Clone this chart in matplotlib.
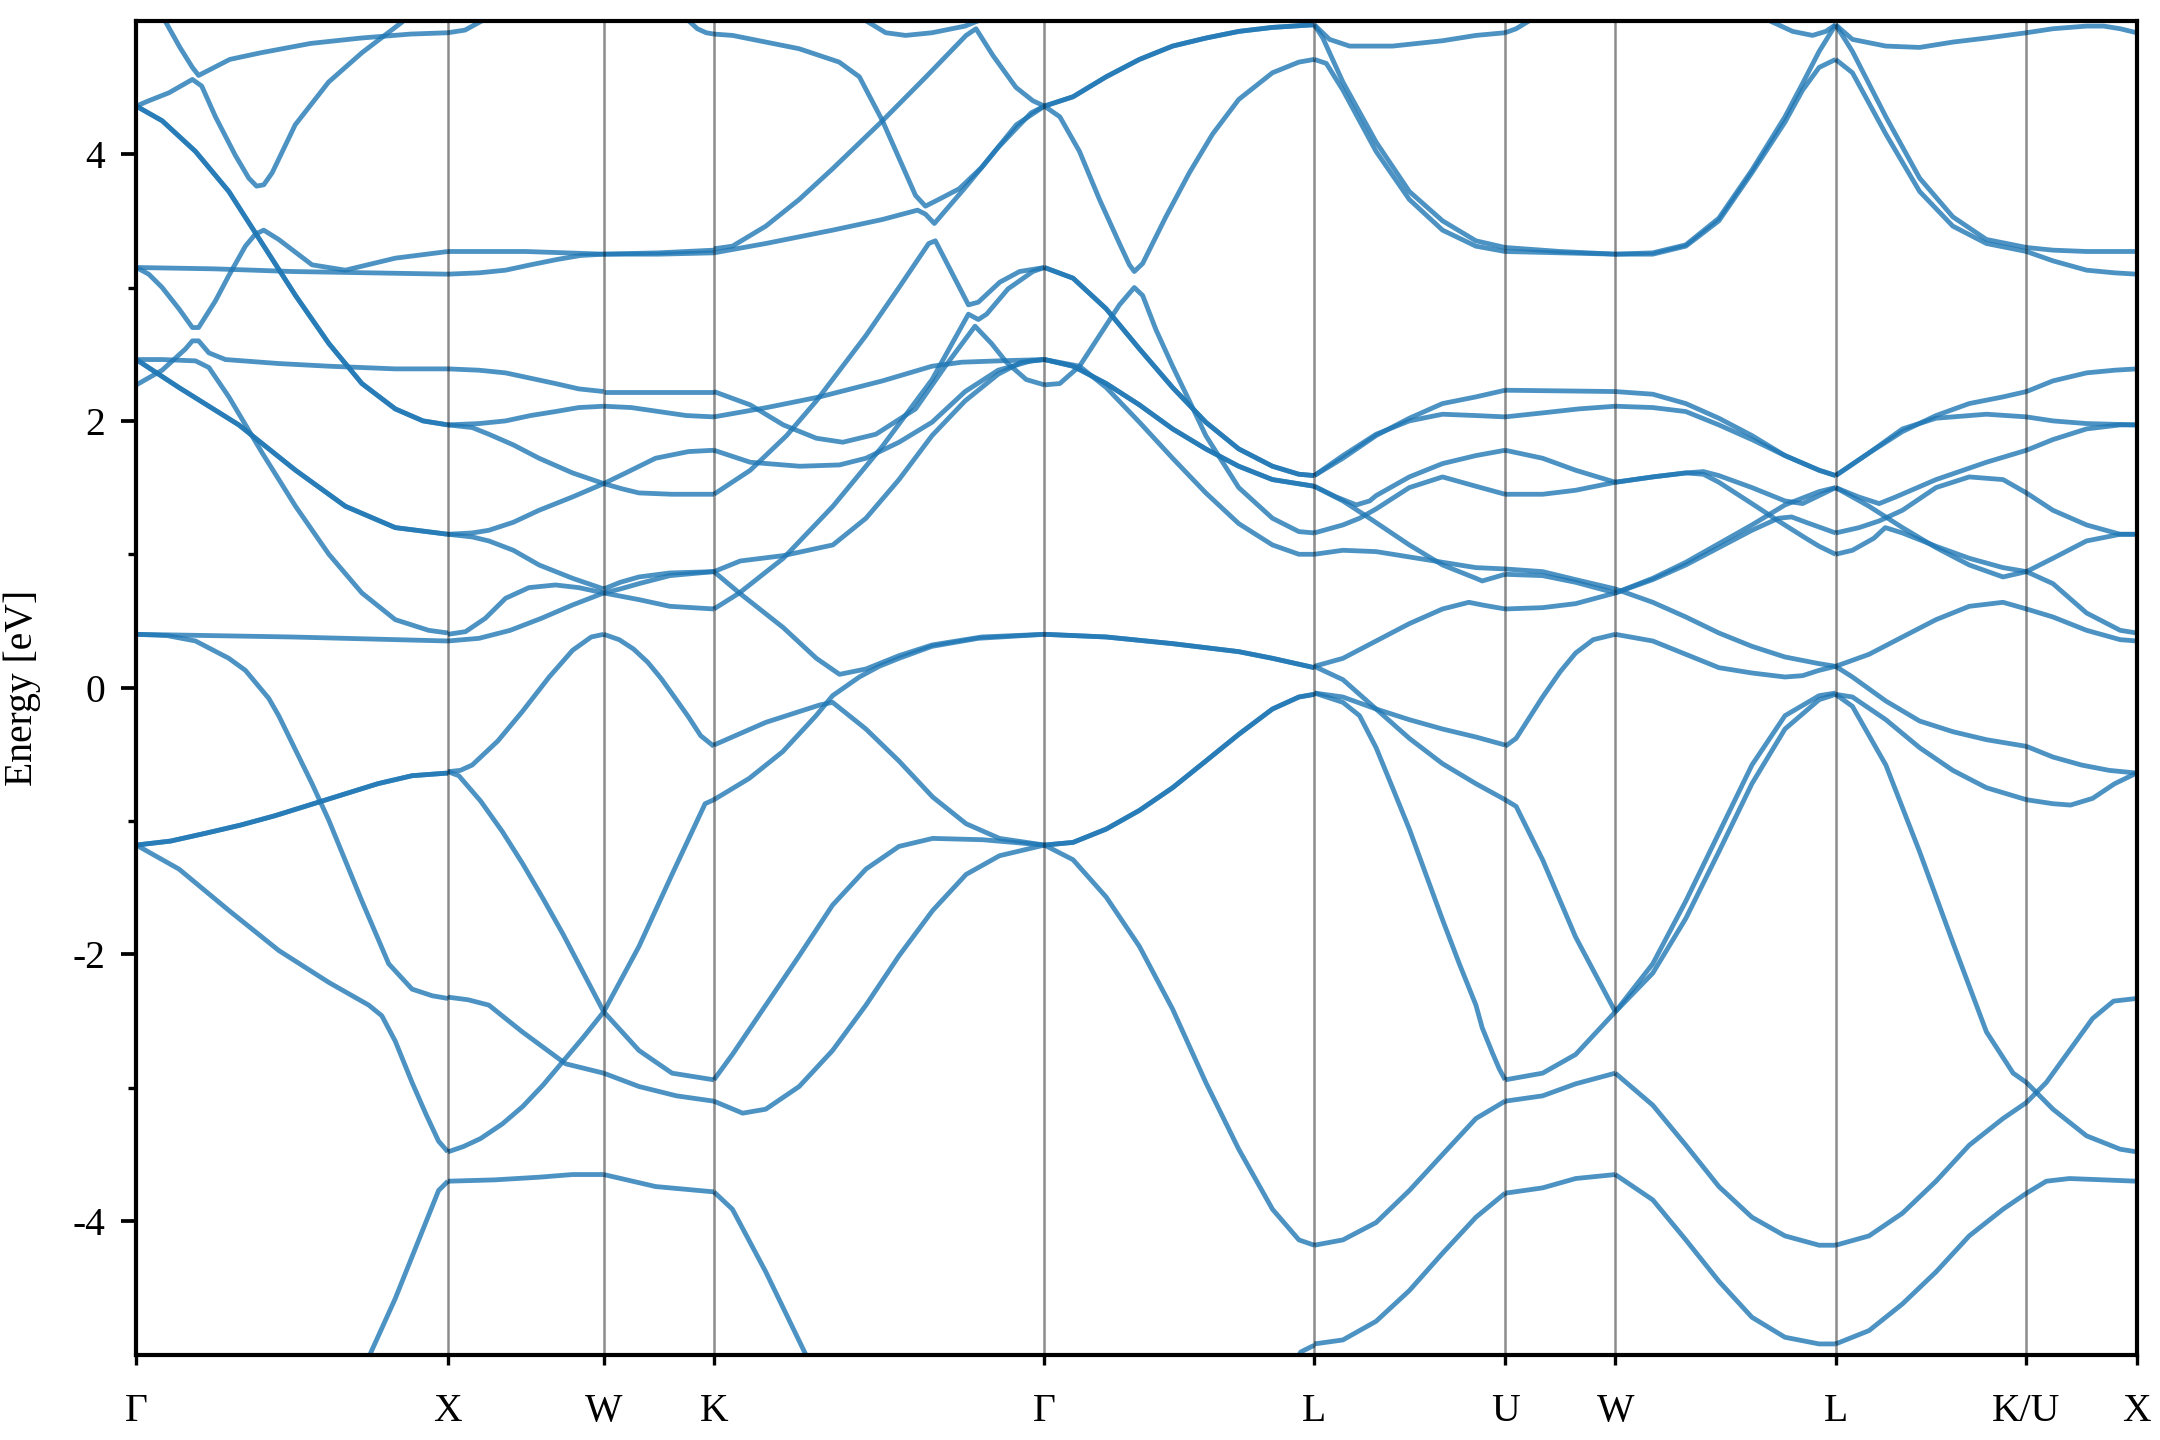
import matplotlib.pyplot as plt

plt.rcParams['font.family'] = ['Liberation Serif', 'DejaVu Serif']
plt.rcParams['font.size'] = 9.5
plt.rcParams['axes.unicode_minus'] = False

# k-path (FCC), segment lengths in 2pi/a
labels = ['Γ', 'X', 'W', 'K', 'Γ', 'L', 'U', 'W', 'L', 'K/U', 'X']
seg_len = [1.0, 0.5, 0.3536, 1.0607, 0.8660, 0.6124, 0.3536, 0.7071, 0.6124, 0.3536]

# band pieces per segment: (fraction along segment, energy in eV[, degeneracy])
gamma_x = [
    ([0.08, 0.14, 0.18, 0.20, 0.30, 0.40, 0.56, 0.72, 0.88, 1.0],
     [5.05, 4.80, 4.65, 4.59, 4.71, 4.76, 4.83, 4.87, 4.90, 4.91]),
    ([0, 0.04, 0.105, 0.18, 0.21, 0.254, 0.318, 0.361, 0.386, 0.409, 0.436, 0.51, 0.617, 0.724, 0.853, 0.87],
     [4.36, 4.40, 4.46, 4.56, 4.51, 4.28, 3.99, 3.82, 3.76, 3.77, 3.86, 4.22, 4.54, 4.76, 4.99, 5.05]),
    ([0, 0.083, 0.19, 0.297, 0.404, 0.511, 0.618, 0.724, 0.831, 0.92, 1.0],
     [4.36, 4.25, 4.02, 3.72, 3.33, 2.94, 2.58, 2.28, 2.09, 2.0, 1.97], 2),
    ([0, 0.25, 0.5, 0.75, 1.0], [3.15, 3.14, 3.12, 3.11, 3.10]),
    ([0, 0.04, 0.083, 0.137, 0.18, 0.2, 0.254, 0.297, 0.35, 0.382, 0.409, 0.457, 0.564, 0.671, 0.831, 1.0],
     [3.15, 3.10, 3.0, 2.84, 2.70, 2.70, 2.90, 3.09, 3.31, 3.40, 3.43, 3.36, 3.17, 3.13, 3.22, 3.27]),
    ([0, 0.083, 0.19, 0.233, 0.297, 0.404, 0.511, 0.618, 0.724, 0.831, 0.938, 1.0],
     [2.46, 2.46, 2.45, 2.40, 2.18, 1.76, 1.36, 1.0, 0.71, 0.51, 0.43, 0.41]),
    ([0, 0.137, 0.329, 0.511, 0.671, 0.831, 1.0],
     [2.46, 2.25, 1.97, 1.63, 1.36, 1.20, 1.15], 2),
    ([0, 0.083, 0.158, 0.18, 0.2, 0.233, 0.286, 0.457, 0.618, 0.831, 1.0],
     [2.27, 2.38, 2.54, 2.60, 2.60, 2.51, 2.46, 2.43, 2.41, 2.39, 2.39]),
    ([0, 0.5, 1.0], [0.40, 0.38, 0.35]),
    ([0, 0.1, 0.19, 0.297, 0.35, 0.425, 0.457, 0.564, 0.617, 0.724, 0.81, 0.885, 0.95, 1.0],
     [0.40, 0.39, 0.35, 0.22, 0.13, -0.08, -0.21, -0.72, -0.99, -1.6, -2.07, -2.26, -2.31, -2.33]),
    ([0, 0.11, 0.225, 0.335, 0.445, 0.555, 0.665, 0.775, 0.885, 1.0],
     [-1.18, -1.15, -1.09, -1.03, -0.96, -0.88, -0.80, -0.72, -0.66, -0.64], 2),
    ([0, 0.137, 0.297, 0.457, 0.618, 0.746, 0.788, 0.831, 0.885, 0.93, 0.97, 1.0],
     [-1.18, -1.36, -1.67, -1.97, -2.21, -2.38, -2.46, -2.65, -2.96, -3.20, -3.40, -3.48]),
    ([0.74, 0.831, 0.97, 1.0], [-5.05, -4.58, -3.77, -3.70]),
]

x_w = [
    ([0, 0.11, 0.22, 0.26], [4.91, 4.93, 5.0, 5.05]),
    ([0, 0.5, 1.0], [3.27, 3.27, 3.25]),
    ([0, 0.2, 0.37, 0.53, 0.7, 0.85, 1.0], [3.10, 3.11, 3.13, 3.17, 3.21, 3.24, 3.25]),
    ([0, 0.2, 0.37, 0.53, 0.69, 0.84, 1.0], [2.39, 2.38, 2.36, 2.32, 2.28, 2.24, 2.22]),
    ([0, 0.2, 0.37, 0.53, 0.69, 0.84, 1.0], [1.97, 1.98, 2.0, 2.04, 2.07, 2.10, 2.11]),
    ([0, 0.156, 0.263, 0.42, 0.585, 0.8, 1.0], [1.97, 1.95, 1.90, 1.82, 1.72, 1.61, 1.53]),
    ([0, 0.156, 0.263, 0.42, 0.585, 0.8, 1.0], [1.15, 1.16, 1.18, 1.24, 1.33, 1.43, 1.53]),
    ([0, 0.156, 0.263, 0.42, 0.585, 0.8, 1.0], [1.15, 1.13, 1.10, 1.03, 0.92, 0.82, 0.74]),
    ([0, 0.113, 0.24, 0.37, 0.52, 0.69, 0.84, 1.0], [0.40, 0.42, 0.52, 0.67, 0.75, 0.77, 0.75, 0.71]),
    ([0, 0.2, 0.4, 0.6, 0.8, 1.0], [0.35, 0.37, 0.43, 0.52, 0.62, 0.71]),
    ([0, 0.08, 0.156, 0.32, 0.477, 0.65, 0.8, 0.92, 1.0],
     [-0.63, -0.62, -0.58, -0.40, -0.18, 0.08, 0.28, 0.38, 0.40]),
    ([0, 0.07, 0.21, 0.35, 0.48, 0.61, 0.74, 0.87, 1.0],
     [-0.63, -0.66, -0.85, -1.08, -1.32, -1.58, -1.85, -2.14, -2.43]),
    ([0, 0.13, 0.263, 0.477, 0.756, 1.0], [-2.32, -2.34, -2.38, -2.58, -2.82, -2.89]),
    ([0, 0.1, 0.21, 0.35, 0.48, 0.61, 0.74, 0.87, 1.0],
     [-3.48, -3.44, -3.38, -3.27, -3.14, -2.98, -2.80, -2.62, -2.43]),
    ([0, 0.3, 0.585, 0.8, 1.0], [-3.70, -3.69, -3.67, -3.65, -3.65]),
]

w_k = [
    ([0.72, 0.77, 0.85, 0.93, 1.0], [5.05, 5.0, 4.94, 4.91, 4.90]),
    ([0, 0.5, 1.0], [3.25, 3.26, 3.28]),
    ([0, 0.5, 1.0], [3.25, 3.25, 3.26]),
    ([0, 0.5, 1.0], [2.22, 2.22, 2.22]),
    ([0, 0.25, 0.5, 0.75, 1.0], [2.11, 2.10, 2.07, 2.04, 2.03]),
    ([0, 0.17, 0.32, 0.62, 1.0], [1.53, 1.49, 1.46, 1.45, 1.45]),
    ([0, 0.2, 0.47, 0.77, 1.0], [1.53, 1.61, 1.72, 1.77, 1.78]),
    ([0, 0.15, 0.32, 0.6, 1.0], [0.74, 0.79, 0.83, 0.86, 0.87]),
    ([0, 0.15, 0.32, 0.6, 1.0], [0.71, 0.74, 0.78, 0.84, 0.87]),
    ([0, 0.32, 0.6, 1.0], [0.71, 0.66, 0.61, 0.59]),
    ([0, 0.14, 0.27, 0.4, 0.52, 0.65, 0.77, 0.88, 1.0],
     [0.40, 0.36, 0.29, 0.19, 0.07, -0.08, -0.22, -0.36, -0.44]),
    ([0, 0.32, 0.62, 1.0], [-2.43, -2.72, -2.89, -2.94]),
    ([0, 0.32, 0.62, 0.92, 1.0], [-2.43, -1.94, -1.40, -0.87, -0.84]),
    ([0, 0.32, 0.66, 1.0], [-2.89, -2.99, -3.06, -3.10]),
    ([0, 0.47, 1.0], [-3.65, -3.74, -3.78]),
]

k_gamma = [
    ([0, 0.056, 0.258, 0.379, 0.44, 0.51, 0.61, 0.64, 0.68, 0.742, 0.81, 0.915, 1.0],
     [4.90, 4.89, 4.79, 4.69, 4.58, 4.25, 3.69, 3.61, 3.66, 3.74, 3.90, 4.22, 4.36]),
    ([0, 0.056, 0.157, 0.258, 0.359, 0.51, 0.642, 0.763, 0.793, 0.844, 0.914, 0.965, 1.0],
     [3.29, 3.31, 3.46, 3.66, 3.89, 4.25, 4.58, 4.89, 4.94, 4.74, 4.50, 4.40, 4.36]),
    ([0, 0.157, 0.359, 0.51, 0.616, 0.64, 0.667, 0.757, 0.86, 0.96, 1.0],
     [3.26, 3.33, 3.43, 3.51, 3.58, 3.55, 3.48, 3.74, 4.05, 4.31, 4.36]),
    ([0.44, 0.46, 0.52, 0.58, 0.66, 0.76, 0.80, 0.82], [5.05, 5.0, 4.91, 4.89, 4.91, 4.96, 5.0, 5.05]),
    ([0, 0.11, 0.21, 0.31, 0.39, 0.49, 0.61, 0.70, 0.79, 0.84, 0.885, 0.945, 1.0],
     [2.22, 2.12, 1.97, 1.87, 1.84, 1.90, 2.09, 2.41, 2.71, 2.58, 2.44, 2.31, 2.27]),
    ([0, 0.16, 0.32, 0.51, 0.66, 0.75, 0.86, 1.0], [2.03, 2.10, 2.18, 2.30, 2.41, 2.44, 2.45, 2.46]),
    ([0, 0.11, 0.26, 0.38, 0.46, 0.56, 0.66, 0.76, 0.86, 0.96, 1.0],
     [1.78, 1.69, 1.66, 1.67, 1.72, 1.84, 1.99, 2.22, 2.38, 2.45, 2.46]),
    ([0, 0.11, 0.22, 0.31, 0.46, 0.56, 0.65, 0.67, 0.77, 0.80, 0.865, 0.925, 1.0],
     [1.45, 1.63, 1.89, 2.15, 2.64, 3.0, 3.33, 3.35, 2.87, 2.89, 3.04, 3.12, 3.15]),
    ([0, 0.08, 0.21, 0.36, 0.46, 0.56, 0.66, 0.76, 0.86, 0.93, 1.0],
     [0.87, 0.95, 0.99, 1.07, 1.27, 1.56, 1.89, 2.15, 2.35, 2.44, 2.46]),
    ([0, 0.077, 0.21, 0.36, 0.51, 0.66, 0.77, 0.80, 0.825, 0.89, 0.965, 1.0],
     [0.59, 0.71, 0.97, 1.36, 1.81, 2.31, 2.80, 2.76, 2.80, 2.99, 3.12, 3.15]),
    ([0, 0.077, 0.21, 0.31, 0.38, 0.46, 0.56, 0.66, 0.81, 1.0],
     [0.87, 0.71, 0.45, 0.22, 0.10, 0.14, 0.24, 0.32, 0.38, 0.40]),
    ([0, 0.157, 0.32, 0.359, 0.46, 0.56, 0.662, 0.763, 0.864, 1.0],
     [-0.43, -0.26, -0.13, -0.11, -0.31, -0.55, -0.82, -1.02, -1.13, -1.18]),
    ([0, 0.107, 0.208, 0.309, 0.359, 0.44, 0.5, 0.56, 0.66, 0.8, 1.0],
     [-0.84, -0.68, -0.48, -0.21, -0.06, 0.08, 0.16, 0.22, 0.31, 0.37, 0.40]),
    ([0, 0.056, 0.157, 0.258, 0.359, 0.46, 0.56, 0.662, 0.813, 1.0],
     [-2.94, -2.75, -2.38, -2.01, -1.63, -1.36, -1.19, -1.13, -1.14, -1.18]),
    ([0, 0.087, 0.157, 0.258, 0.359, 0.46, 0.56, 0.662, 0.763, 0.864, 1.0],
     [-3.10, -3.19, -3.16, -2.99, -2.72, -2.38, -2.01, -1.67, -1.40, -1.26, -1.18]),
    ([0, 0.056, 0.157, 0.278, 0.29], [-3.78, -3.91, -4.38, -5.0, -5.05]),
]

gamma_l = [
    ([0, 0.106, 0.229, 0.352, 0.475, 0.598, 0.72, 0.845, 1.0],
     [4.36, 4.43, 4.58, 4.71, 4.81, 4.87, 4.92, 4.95, 4.97], 2),
    ([0, 0.057, 0.13, 0.204, 0.278, 0.315, 0.333, 0.364, 0.45, 0.537, 0.623, 0.72, 0.845, 0.943, 1.0],
     [4.36, 4.28, 4.02, 3.66, 3.33, 3.17, 3.12, 3.18, 3.53, 3.86, 4.15, 4.41, 4.61, 4.69, 4.71]),
    ([0, 0.106, 0.229, 0.352, 0.475, 0.598, 0.72, 0.845, 0.943, 1.0],
     [3.15, 3.07, 2.84, 2.54, 2.25, 1.99, 1.79, 1.66, 1.60, 1.59], 2),
    ([0, 0.057, 0.13, 0.204, 0.278, 0.333, 0.364, 0.414, 0.475, 0.537, 0.598, 0.72, 0.845, 0.943, 1.0],
     [2.27, 2.28, 2.41, 2.64, 2.87, 3.0, 2.94, 2.68, 2.41, 2.15, 1.89, 1.50, 1.27, 1.17, 1.16]),
    ([0, 0.106, 0.229, 0.352, 0.475, 0.598, 0.72, 0.845, 1.0],
     [2.46, 2.41, 2.28, 2.12, 1.94, 1.79, 1.66, 1.56, 1.51], 2),
    ([0, 0.13, 0.229, 0.352, 0.475, 0.598, 0.72, 0.845, 0.943, 1.0],
     [2.46, 2.41, 2.25, 1.99, 1.72, 1.46, 1.23, 1.07, 1.0, 1.0]),
    ([0, 0.229, 0.475, 0.72, 0.845, 1.0], [0.40, 0.38, 0.33, 0.27, 0.22, 0.15], 2),
    ([0, 0.106, 0.229, 0.352, 0.475, 0.598, 0.72, 0.845, 0.943, 1.0],
     [-1.18, -1.16, -1.06, -0.92, -0.75, -0.55, -0.35, -0.16, -0.07, -0.05], 2),
    ([0, 0.106, 0.229, 0.352, 0.475, 0.598, 0.72, 0.845, 0.943, 1.0],
     [-1.18, -1.29, -1.57, -1.94, -2.41, -2.96, -3.46, -3.91, -4.14, -4.18]),
    ([0.93, 0.95, 1.0], [-5.05, -4.98, -4.93]),
]

l_u = [
    ([0, 0.08, 0.185, 0.41, 0.672, 0.847, 1.0], [4.97, 4.86, 4.81, 4.81, 4.85, 4.89, 4.91]),
    ([0, 0.045, 0.15, 0.324, 0.498, 0.672, 0.847, 1.0], [4.97, 4.87, 4.54, 4.09, 3.72, 3.50, 3.35, 3.30]),
    ([0, 0.063, 0.15, 0.324, 0.498, 0.672, 0.847, 1.0], [4.71, 4.68, 4.48, 4.02, 3.66, 3.43, 3.31, 3.27]),
    ([0, 0.15, 0.324, 0.498, 0.672, 0.847, 1.0], [1.59, 1.72, 1.89, 2.02, 2.13, 2.18, 2.23]),
    ([0, 0.15, 0.324, 0.498, 0.672, 0.847, 1.0], [1.59, 1.74, 1.90, 2.0, 2.05, 2.04, 2.03]),
    ([0, 0.115, 0.22, 0.29, 0.324, 0.498, 0.672, 0.847, 1.0],
     [1.51, 1.43, 1.37, 1.40, 1.44, 1.58, 1.68, 1.74, 1.78]),
    ([0, 0.15, 0.29, 0.498, 0.672, 0.847, 0.88, 1.0], [1.51, 1.40, 1.27, 1.07, 0.92, 0.82, 0.80, 0.85]),
    ([0, 0.15, 0.237, 0.324, 0.498, 0.672, 0.847, 1.0], [1.16, 1.22, 1.27, 1.34, 1.50, 1.58, 1.51, 1.45]),
    ([0, 0.15, 0.324, 0.498, 0.672, 0.847, 1.0], [1.0, 1.03, 1.02, 0.98, 0.94, 0.90, 0.89]),
    ([0, 0.15, 0.324, 0.498, 0.672, 0.81, 0.88, 1.0], [0.16, 0.22, 0.35, 0.48, 0.59, 0.64, 0.62, 0.59]),
    ([0, 0.15, 0.324, 0.498, 0.672, 0.847, 1.0], [0.16, 0.06, -0.16, -0.38, -0.57, -0.72, -0.84]),
    ([0, 0.15, 0.324, 0.498, 0.672, 0.847, 1.0], [-0.04, -0.07, -0.16, -0.24, -0.31, -0.37, -0.43]),
    ([0, 0.15, 0.237, 0.324, 0.41, 0.498, 0.585, 0.672, 0.76, 0.847, 0.88, 0.934, 0.97, 1.0],
     [-0.04, -0.11, -0.21, -0.45, -0.75, -1.06, -1.40, -1.74, -2.07, -2.38, -2.55, -2.74, -2.86, -2.94]),
    ([0, 0.15, 0.324, 0.498, 0.672, 0.847, 1.0], [-4.18, -4.14, -4.01, -3.77, -3.50, -3.23, -3.10]),
    ([0, 0.15, 0.324, 0.498, 0.672, 0.847, 1.0], [-4.92, -4.89, -4.75, -4.52, -4.24, -3.97, -3.79]),
]

u_w = [
    ([0, 0.1, 0.22, 0.26], [4.91, 4.94, 5.0, 5.05]),
    ([0, 0.5, 1.0], [3.30, 3.27, 3.25]),
    ([0, 0.5, 1.0], [3.27, 3.26, 3.25]),
    ([0, 1.0], [2.23, 2.22]),
    ([0, 0.34, 0.67, 1.0], [2.03, 2.06, 2.09, 2.11]),
    ([0, 0.34, 0.64, 1.0], [1.78, 1.72, 1.63, 1.54]),
    ([0, 0.34, 0.64, 1.0], [1.45, 1.45, 1.48, 1.54]),
    ([0, 0.34, 0.64, 1.0], [0.89, 0.87, 0.81, 0.74]),
    ([0, 0.34, 0.64, 1.0], [0.85, 0.84, 0.79, 0.71]),
    ([0, 0.34, 0.64, 1.0], [0.59, 0.60, 0.63, 0.71]),
    ([0, 0.1, 0.34, 0.5, 0.64, 0.8, 1.0], [-0.44, -0.38, -0.07, 0.12, 0.26, 0.36, 0.40]),
    ([0, 0.1, 0.34, 0.64, 1.0], [-0.84, -0.89, -1.29, -1.87, -2.43]),
    ([0, 0.34, 0.64, 1.0], [-2.94, -2.89, -2.75, -2.43]),
    ([0, 0.34, 0.64, 1.0], [-3.10, -3.06, -2.97, -2.89]),
    ([0, 0.34, 0.64, 1.0], [-3.79, -3.75, -3.68, -3.65]),
]

w_l = [
    ([0, 0.17, 0.32, 0.47, 0.62, 0.77, 0.85, 0.925, 1.0], [3.25, 3.26, 3.32, 3.52, 3.88, 4.28, 4.53, 4.77, 4.97]),
    ([0, 0.17, 0.32, 0.47, 0.62, 0.77, 0.85, 0.925, 1.0], [3.25, 3.25, 3.31, 3.50, 3.86, 4.24, 4.48, 4.65, 4.71]),
    ([0.66, 0.70, 0.805, 0.895, 0.955, 1.0], [5.05, 5.0, 4.92, 4.89, 4.92, 4.97]),
    ([0, 0.17, 0.32, 0.47, 0.62, 0.77, 0.925, 1.0], [2.22, 2.20, 2.13, 2.02, 1.89, 1.74, 1.63, 1.59]),
    ([0, 0.17, 0.32, 0.47, 0.62, 0.77, 0.925, 1.0], [2.11, 2.10, 2.07, 1.97, 1.86, 1.74, 1.63, 1.59]),
    ([0, 0.17, 0.32, 0.40, 0.47, 0.62, 0.77, 0.85, 0.925, 1.0],
     [1.54, 1.58, 1.61, 1.62, 1.59, 1.50, 1.40, 1.38, 1.44, 1.50]),
    ([0, 0.17, 0.32, 0.40, 0.47, 0.62, 0.74, 0.865, 0.925, 1.0],
     [1.54, 1.58, 1.61, 1.60, 1.54, 1.38, 1.25, 1.12, 1.06, 1.0]),
    ([0, 0.17, 0.32, 0.47, 0.62, 0.74, 0.80, 0.865, 1.0], [0.71, 0.81, 0.92, 1.05, 1.18, 1.27, 1.28, 1.24, 1.16]),
    ([0, 0.17, 0.32, 0.47, 0.62, 0.77, 0.925, 1.0], [0.71, 0.82, 0.94, 1.08, 1.22, 1.37, 1.47, 1.50]),
    ([0, 0.17, 0.32, 0.47, 0.62, 0.77, 0.925, 1.0], [0.74, 0.64, 0.53, 0.41, 0.31, 0.23, 0.18, 0.16]),
    ([0, 0.17, 0.32, 0.47, 0.62, 0.77, 0.85, 0.925, 1.0], [0.40, 0.35, 0.25, 0.15, 0.11, 0.08, 0.09, 0.13, 0.16]),
    ([0, 0.17, 0.32, 0.47, 0.62, 0.77, 0.925, 1.0], [-2.43, -2.07, -1.60, -1.09, -0.58, -0.21, -0.06, -0.04]),
    ([0, 0.17, 0.32, 0.47, 0.62, 0.77, 0.925, 1.0], [-2.43, -2.14, -1.73, -1.23, -0.72, -0.31, -0.09, -0.05]),
    ([0, 0.17, 0.32, 0.47, 0.62, 0.77, 0.925, 1.0], [-2.89, -3.13, -3.43, -3.74, -3.97, -4.11, -4.18, -4.18]),
    ([0, 0.17, 0.32, 0.47, 0.62, 0.77, 0.925, 1.0], [-3.65, -3.84, -4.14, -4.45, -4.72, -4.87, -4.92, -4.92]),
]

l_k = [
    ([0, 0.088, 0.263, 0.44, 0.614, 0.79, 1.0], [4.97, 4.86, 4.81, 4.80, 4.84, 4.87, 4.91]),
    ([0, 0.088, 0.263, 0.44, 0.614, 0.79, 1.0], [4.97, 4.77, 4.28, 3.82, 3.53, 3.36, 3.30]),
    ([0, 0.088, 0.263, 0.44, 0.614, 0.79, 0.895, 1.0], [4.71, 4.61, 4.15, 3.72, 3.46, 3.33, 3.30, 3.27]),
    ([0, 0.175, 0.35, 0.526, 0.70, 0.877, 1.0], [1.59, 1.76, 1.92, 2.04, 2.13, 2.18, 2.22]),
    ([0, 0.175, 0.35, 0.526, 0.79, 1.0], [1.59, 1.76, 1.94, 2.02, 2.05, 2.03]),
    ([0, 0.12, 0.228, 0.315, 0.526, 0.79, 1.0], [1.50, 1.43, 1.38, 1.43, 1.56, 1.69, 1.78]),
    ([0, 0.175, 0.35, 0.526, 0.70, 0.877, 1.0], [1.50, 1.36, 1.20, 1.05, 0.92, 0.83, 0.87]),
    ([0, 0.123, 0.228, 0.35, 0.526, 0.70, 0.877, 1.0], [1.16, 1.20, 1.25, 1.33, 1.50, 1.58, 1.56, 1.46]),
    ([0, 0.088, 0.2, 0.26, 0.35, 0.526, 0.70, 0.877, 1.0], [1.0, 1.03, 1.12, 1.20, 1.16, 1.06, 0.97, 0.90, 0.87]),
    ([0, 0.175, 0.35, 0.526, 0.70, 0.877, 1.0], [0.16, 0.25, 0.38, 0.51, 0.61, 0.64, 0.59]),
    ([0, 0.088, 0.263, 0.44, 0.614, 0.79, 1.0], [0.16, 0.08, -0.10, -0.25, -0.33, -0.39, -0.44]),
    ([0, 0.088, 0.263, 0.44, 0.614, 0.79, 1.0], [-0.05, -0.07, -0.24, -0.45, -0.62, -0.75, -0.84]),
    ([0, 0.088, 0.263, 0.44, 0.614, 0.79, 0.93, 1.0], [-0.05, -0.14, -0.58, -1.23, -1.91, -2.58, -2.89, -2.96]),
    ([0, 0.175, 0.35, 0.526, 0.70, 0.877, 1.0], [-4.18, -4.11, -3.94, -3.70, -3.43, -3.23, -3.11]),
    ([0, 0.175, 0.35, 0.526, 0.70, 0.877, 1.0], [-4.92, -4.82, -4.62, -4.38, -4.11, -3.91, -3.79]),
]

u_x = [
    ([0, 0.24, 0.545, 0.7, 0.85, 1.0], [4.91, 4.94, 4.96, 4.96, 4.94, 4.91]),
    ([0, 0.24, 0.545, 1.0], [3.30, 3.28, 3.27, 3.27]),
    ([0, 0.24, 0.545, 0.8, 1.0], [3.27, 3.20, 3.13, 3.11, 3.10]),
    ([0, 0.24, 0.545, 0.8, 1.0], [2.22, 2.30, 2.36, 2.38, 2.39]),
    ([0, 0.24, 0.545, 1.0], [2.03, 2.0, 1.98, 1.97]),
    ([0, 0.24, 0.545, 0.85, 1.0], [1.78, 1.86, 1.94, 1.97, 1.97]),
    ([0, 0.24, 0.545, 0.85, 1.0], [1.46, 1.33, 1.22, 1.15, 1.15]),
    ([0, 0.24, 0.545, 0.85, 1.0], [0.87, 0.97, 1.10, 1.15, 1.15]),
    ([0, 0.24, 0.545, 0.85, 1.0], [0.87, 0.78, 0.56, 0.43, 0.41]),
    ([0, 0.24, 0.545, 0.85, 1.0], [0.59, 0.53, 0.43, 0.36, 0.35]),
    ([0, 0.24, 0.5, 0.75, 1.0], [-0.44, -0.52, -0.58, -0.62, -0.64]),
    ([0, 0.24, 0.4, 0.6, 0.8, 1.0], [-0.84, -0.87, -0.88, -0.83, -0.72, -0.64]),
    ([0, 0.24, 0.545, 0.85, 1.0], [-2.96, -3.16, -3.36, -3.46, -3.48]),
    ([0, 0.18, 0.39, 0.6, 0.79, 1.0], [-3.11, -2.96, -2.72, -2.48, -2.35, -2.33]),
    ([0, 0.18, 0.39, 0.7, 1.0], [-3.79, -3.70, -3.68, -3.69, -3.70]),
]

segments = [gamma_x, x_w, w_k, k_gamma, gamma_l, l_u, u_w, w_l, l_k, u_x]

ticks = [0.0]
for d in seg_len:
    ticks.append(ticks[-1] + d)

fig = plt.figure(figsize=(7.2, 4.8), dpi=300)
ax = fig.add_axes([0.0631, 0.0593, 0.9261, 0.9263])

for i, seg in enumerate(segments):
    for piece in seg:
        f, e = piece[0], piece[1]
        n = piece[2] if len(piece) > 2 else 1
        k = [ticks[i] + x * seg_len[i] for x in f]
        for _ in range(n):
            ax.plot(k, e, color='#1f77b4', alpha=0.8, lw=1.15, solid_capstyle='butt')

for t in ticks[1:-1]:
    ax.axvline(t, color='k', alpha=0.45, lw=0.6, zorder=3)

ax.set_xlim(ticks[0], ticks[-1])
ax.set_ylim(-5, 5)
ax.set_xticks(ticks)
ax.set_xticklabels(labels)
ax.set_yticks([-4, -2, 0, 2, 4])
ax.set_yticks([-3, -1, 1, 3], minor=True)
ax.set_ylabel('Energy [eV]', labelpad=7.5)
ax.tick_params(axis='y', which='major', length=3.5, width=0.9, direction='out', pad=4)
ax.tick_params(axis='y', which='minor', length=2, width=0.8, direction='out')
ax.tick_params(axis='x', length=2.5, width=0.8, direction='out', pad=6.7)
for s in ax.spines.values():
    s.set_linewidth(1.0)

fig.savefig('out.png', dpi=300)
